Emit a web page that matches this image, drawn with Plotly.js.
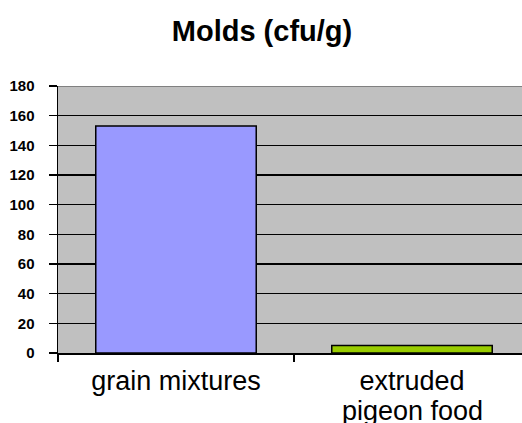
<!DOCTYPE html>
<html><head><meta charset="utf-8">
<script src="https://cdn.plot.ly/plotly-3.0.1.min.js"></script>
<style>html,body{margin:0;padding:0;overflow:hidden;background:#fff}</style>
</head><body><div id="chart"></div>
<script>
const categories = ["grain mixtures", "extruded pigeon food"];
const labelLine1 = ["grain mixtures", "extruded"];
const labelLine2 = ["", "pigeon food"];
const values = [153, 5];
const barColors = ["#9999ff", "#99cc00"];
const yTicks = [0, 20, 40, 60, 80, 100, 120, 140, 160, 180];

const trace = {
  type: "bar",
  x: categories,
  y: values,
  width: 0.68,
  marker: {color: barColors, line: {color: "#000", width: 1.5}},
  hoverinfo: "none"
};
const annotations = categories.map((c, i) => ({
  text: labelLine2[i], x: c, xref: "x", y: 0, yref: "paper",
  xanchor: "center", yanchor: "top", yshift: -41, showarrow: false,
  font: {size: 27, family: "Liberation Sans, Arial, sans-serif", color: "#000"}
})).filter(a => a.text);
const layout = {
  width: 540, height: 423,
  margin: {l: 58, r: 10, t: 86, b: 70},
  paper_bgcolor: "#fff", plot_bgcolor: "#c0c0c0",
  font: {family: "Liberation Sans, Arial, sans-serif", color: "#000"},
  title: {text: "<b>Molds (cfu/g)</b>", font: {size: 29, family: "Liberation Sans, Arial, sans-serif"},
          x: 262/540, xref: "container", xanchor: "center", y: 1 - 31/423, yref: "container", yanchor: "middle"},
  showlegend: false,
  xaxis: {
    type: "category", range: [-0.5, 1.5], tickson: "boundaries",
    tickvals: categories, ticktext: labelLine1,
    ticks: "outside", ticklen: 7, tickwidth: 1.5, tickcolor: "#000",
    showline: true, linecolor: "#000", linewidth: 1.5,
    showgrid: false, tickfont: {size: 27}, ticklabelstandoff: 3
  },
  yaxis: {
    range: [0, 180], tickvals: yTicks, ticktext: yTicks.map(String),
    ticks: "outside", ticklen: 8, tickwidth: 1.5, tickcolor: "#000",
    showline: true, linecolor: "#000", linewidth: 1.5,
    showgrid: true, gridcolor: "#000", gridwidth: 1.5, zeroline: false,
    tickfont: {size: 15, family: "Liberation Sans, Arial, sans-serif", weight: "bold"},
    ticklabelstandoff: 11
  },
  annotations: annotations,
  shapes: [{type: "line", xref: "paper", yref: "y", x0: 0, x1: 1, y0: 180, y1: 180,
            line: {color: "#808080", width: 2}, layer: "above"}]
};
Plotly.newPlot("chart", [trace], layout, {displayModeBar: false, staticPlot: true});
</script></body></html>
